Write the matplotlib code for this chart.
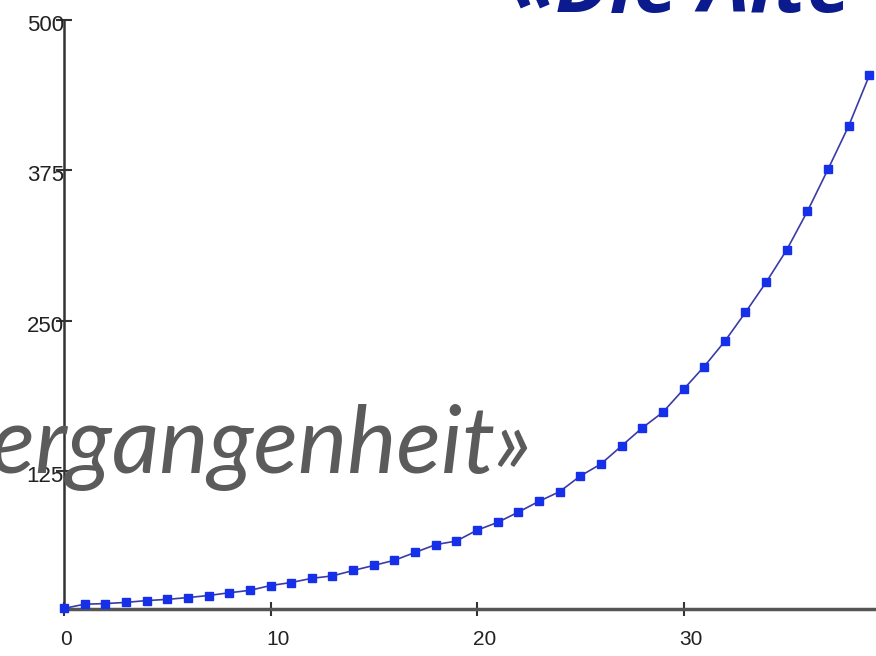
import matplotlib
matplotlib.use("Agg")
import matplotlib.pyplot as plt
from matplotlib.transforms import ScaledTranslation

x_vals = list(range(0, 40))
y_vals = [11, 14.5, 15, 16, 17.5, 18.5, 20, 21.7, 24, 26,
          30, 32.5, 36, 38, 42.5, 46.7, 51, 57.5, 64, 67,
          76, 82.5, 91, 100, 108, 121, 131, 146, 161, 174,
          193, 212, 233, 257, 282, 309, 341, 376, 412, 454]
x_ticks = [0, 10, 20, 30]
y_ticks = [125, 250, 375, 500]
title_top = "«Die Alte Vergangenheit»"
title_mid_hidden = "V"
title_mid_visible = "ergangenheit»"

W, H = 876, 656
fig = plt.figure(figsize=(W / 100, H / 100), dpi=100)
ax = fig.add_axes([64 / W, (H - 609) / H, (W - 64) / W, (609 - 20) / H])
ax.plot(x_vals, y_vals, color="#3a3aa8", lw=1.2, marker="s", ms=5.5,
        mfc="#1530e8", mec="#1530e8", zorder=3, clip_on=False)
ax.set_xlim(0, (W - 64) / 20.65)
ax.set_ylim(10.5, 500)
ax.set_xticks(x_ticks)
ax.set_yticks(y_ticks)
ax.set_xticklabels([str(v) for v in x_ticks], fontfamily="Liberation Sans", fontsize=15, color="#222222")
ax.set_yticklabels([str(v) for v in y_ticks], fontfamily="Liberation Sans", fontsize=16, color="#222222")
for s in ["top", "right"]:
    ax.spines[s].set_visible(False)
ax.spines["left"].set_color("#333333")
ax.spines["left"].set_linewidth(1.8)
ax.spines["bottom"].set_color("#555555")
ax.spines["bottom"].set_linewidth(2.5)
ax.tick_params(axis="x", direction="inout", length=10, width=1.5, color="#333333", pad=10)
ax.tick_params(axis="y", direction="inout", length=12, width=1.5, color="#333333", pad=-6)
for lab in ax.get_xticklabels():
    lab.set_ha("left")
    lab.set_transform(lab.get_transform() + ScaledTranslation(-4 / 100, 0, fig.dpi_scale_trans))
for lab in ax.get_yticklabels():
    lab.set_transform(lab.get_transform() + ScaledTranslation(0, -3 / 100, fig.dpi_scale_trans))

# overlay texts
fig.text(510 / W, 1 - 12 / H, title_top, fontfamily="Open Sans", fontstyle="italic",
         fontweight="bold", fontsize=58, color="#0b1a8c", ha="left", va="baseline")

# fit the grey italic line so its visible part spans ~ -8..533 px
renderer = fig.canvas.get_renderer()
probe = fig.text(0, 0, title_mid_visible, fontfamily="Lato", fontstyle="italic", fontsize=100)
wpx = probe.get_window_extent(renderer).width
probe.remove()
fs = 100 * 541 / wpx
fig.text(533 / W, 1 - 473 / H, title_mid_hidden + title_mid_visible, fontfamily="Lato",
         fontstyle="italic", fontsize=fs, color="#5b5b5b",
         ha="right", va="baseline", zorder=10)

fig.savefig("out.png", dpi=100)
